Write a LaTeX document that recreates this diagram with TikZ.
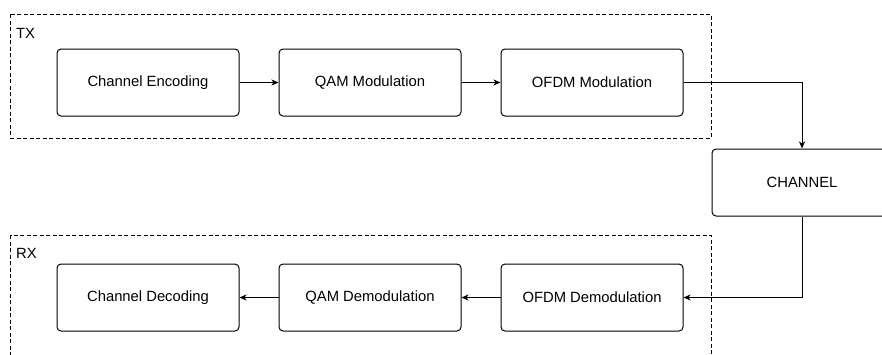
\documentclass[tikz,border=0pt]{standalone}
\usepackage{fontspec}
\setmainfont{Liberation Sans}
\usetikzlibrary{arrows.meta}
\begin{document}
\begin{tikzpicture}[x=1pt,y=-1pt,
  blk/.style={draw=black, line width=1pt, rounded corners=4pt, fill=white, minimum width=182pt, minimum height=67pt, inner sep=0pt, font=\fontsize{14.8}{17}\selectfont},
  grp/.style={draw=black, line width=1pt, dash pattern=on 4pt off 2.5pt},
  grplabel/.style={anchor=base west, inner sep=0pt, font=\fontsize{14.8}{17}\selectfont},
  conn/.style={draw=black, line width=1pt, -{Stealth[length=7pt,width=6pt,inset=2pt]}}
]
\useasboundingbox (0,0) rectangle (882,354);
\begin{scope}
\clip (0,0) rectangle (882,354);
% groups
\draw[grp] (10.7,14) rectangle (711,138);
\draw[grp] (10.7,235) rectangle (711,380);
\node[grplabel] (txl) at (16,38) {TX};
\node[grplabel] (rxl) at (16,258) {RX};
% TX blocks
\node[blk] (enc) at (148,82.5) {Channel Encoding};
\node[blk] (qam) at (370,82.5) {QAM Modulation};
\node[blk] (ofdm) at (592,82.5) {OFDM Modulation};
% channel
\node[blk, minimum width=180pt] (ch) at (802,182.5) {CHANNEL};
% RX blocks
\node[blk] (dec) at (148,297.5) {Channel Decoding};
\node[blk] (qamd) at (370,297.5) {QAM Demodulation};
\node[blk] (ofdmd) at (592,297.5) {OFDM Demodulation};
% connectors
\draw[conn] (enc) -- (qam);
\draw[conn] (qam) -- (ofdm);
\draw[conn] (ofdm.east) -| (ch.north);
\draw[conn] (ch.south) |- (ofdmd.east);
\draw[conn] (ofdmd) -- (qamd);
\draw[conn] (qamd) -- (dec);
\end{scope}
\end{tikzpicture}
\end{document}
